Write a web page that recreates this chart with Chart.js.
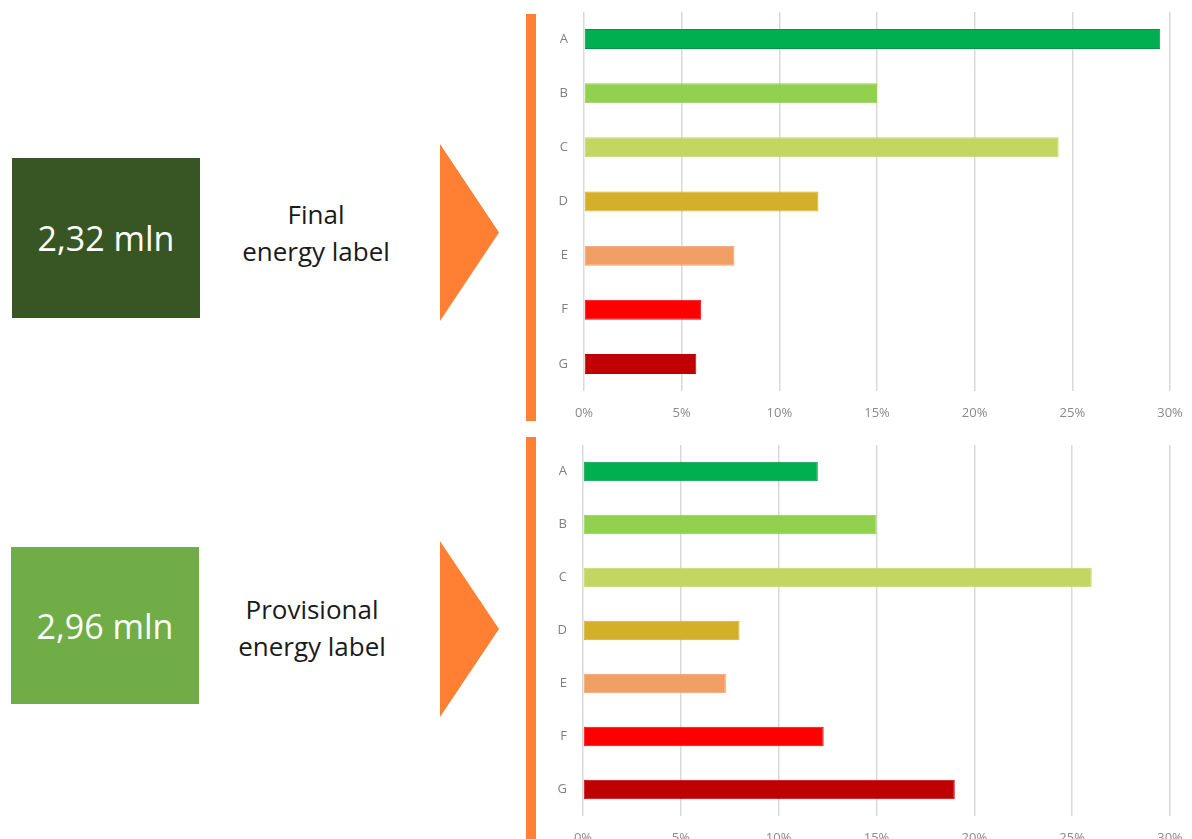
<!DOCTYPE html>
<html>
<head>
<meta charset="utf-8">
<script src="https://cdn.jsdelivr.net/npm/chart.js"></script>
<style>
    html, body { margin: 0; padding: 0; background: #fff; }
    body { width: 1192px; height: 839px; position: relative; overflow: hidden; font-family: "Open Sans", sans-serif; }
    .box { position: absolute; color: #fff; font-size: 34px; display: flex; align-items: center; justify-content: center; }
    .caption { position: absolute; width: 200px; text-align: center; font-size: 26px; line-height: 37px; color: #1a1a1a; }
    .arrow { position: absolute; width: 59px; background: #ff8033; clip-path: polygon(0 0, 100% 50%, 0 100%); }
    .stripe { position: absolute; width: 10px; background: #ff8033; }
    canvas { position: absolute; }
</style>
</head>
<body>
<div class="box" style="left:12px; top:158px; width:188px; height:160px; background:#375623;">2,32 mln</div>
<div class="caption" style="left:216px; top:196px;">Final<br>energy label</div>
<div class="arrow" style="left:440px; top:144px; height:177px;"></div>
<div class="stripe" style="left:526px; top:14px; height:407px;"></div>

<div class="box" style="left:11px; top:547px; width:188px; height:157px; background:#70ad47;">2,96 mln</div>
<div class="caption" style="left:212px; top:591px;">Provisional<br>energy label</div>
<div class="arrow" style="left:440px; top:541px; height:176px;"></div>
<div class="stripe" style="left:526px; top:437px; height:402px;"></div>

<canvas id="graphCanvasFinal" width="652" height="430" style="left:540px; top:0px;"></canvas>
<canvas id="graphCanvasProvisional" width="653" height="430" style="left:539px; top:435px;"></canvas>

<script>
// energy label classes
var labels = ['A', 'B', 'C', 'D', 'E', 'F', 'G'];
// share of dwellings per class, in %
var finalShares = [29.5, 15.0, 24.3, 12.0, 7.7, 6.0, 5.75];
var provisionalShares = [12.0, 15.0, 26.0, 8.0, 7.3, 12.3, 19.0];
// x axis ticks, in %
var xMin = 0;
var xMax = 30;
var xStep = 5;

var barColors = ['#00b050', '#92d050', '#c4d662', '#d4b02a', '#f29f66', '#ff0000', '#c00000'];
var barBorders = ['#00963f', '#92d050', '#c4d662', '#d4b02a', '#f29f66', '#ff0000', '#c00000'];

function noPadding(scale) {
    scale.paddingTop = 0;
    scale.paddingBottom = 0;
    scale.paddingLeft = 0;
    scale.paddingRight = 0;
}

function showGraph(canvasId, shares, padTop, xAxisHeight) {
    var chartdata = {
        labels: labels,
        datasets: [{
            data: shares,
            backgroundColor: barColors,
            borderColor: barBorders,
            borderWidth: 1,
            borderSkipped: false,
            barPercentage: 0.37,
            categoryPercentage: 1
        }]
    };

    var graphTarget = document.getElementById(canvasId);

    var barGraph = new Chart(graphTarget, {
        type: 'bar',
        data: chartdata,
        options: {
            indexAxis: 'y',
            responsive: false,
            animation: false,
            layout: { padding: { top: padTop, right: 22, left: 0, bottom: 0 } },
            plugins: { legend: { display: false }, tooltip: { enabled: false } },
            scales: {
                x: {
                    min: xMin,
                    max: xMax,
                    border: { display: false },
                    grid: { color: '#d9d9d9', lineWidth: 1.5, drawTicks: false },
                    ticks: {
                        stepSize: xStep,
                        padding: 14,
                        color: '#8a8a8a',
                        font: { family: 'Open Sans', size: 13 },
                        callback: function(v) { return v + '%'; }
                    },
                    afterFit: function(scale) {
                        scale.height = xAxisHeight;
                        noPadding(scale);
                    }
                },
                y: {
                    border: { display: false },
                    grid: { display: false, drawTicks: false },
                    ticks: {
                        padding: 16,
                        color: '#7f7f7f',
                        font: { family: 'Open Sans', size: 13 }
                    },
                    afterFit: function(scale) {
                        scale.width = 44;
                        noPadding(scale);
                    }
                }
            }
        }
    });
}

showGraph('graphCanvasFinal', finalShares, 12, 39);
showGraph('graphCanvasProvisional', provisionalShares, 10, 49);
</script>
</body>
</html>
